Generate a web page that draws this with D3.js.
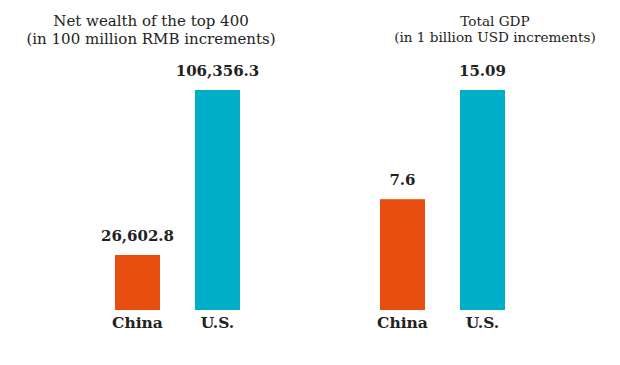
<!DOCTYPE html>
<html>
<head>
<meta charset="utf-8">
<script src="https://cdn.jsdelivr.net/npm/d3@7"></script>
<style>
  body { margin: 0; background: #fff; }
  text { font-family: "DejaVu Serif", Georgia, serif; fill: #222; }
</style>
</head>
<body>
<div id="chart"></div>
<script>
// data
const categories = ["China", "U.S."];
const wealthValues = [26602.8, 106356.3];
const gdpValues = [7.6, 15.09];
const wealthTitle = ["Net wealth of the top 400", "(in 100 million RMB increments)"];
const gdpTitle = ["Total GDP", "(in 1 billion USD increments)"];
const colors = ["#e84e10", "#00aec8"];

const width = 620, height = 365;
const baseY = 310, topY = 90;

const svg = d3.select("#chart").append("svg")
    .attr("width", width).attr("height", height);

function drawPanel(values, fmt, range, title, titleX, titleSize, lineGap) {
    const x = d3.scaleBand()
        .domain(categories)
        .range(range)
        .paddingInner(0.4375)
        .paddingOuter(0.21875);

    const y = d3.scaleLinear()
        .domain([0, d3.max(values)])
        .range([baseY, topY]);

    const g = svg.append("g");

    // title lines
    g.selectAll(".title")
        .data(title)
        .join("text")
        .attr("class", "title")
        .attr("x", titleX)
        .attr("y", (d, i) => 26 + i * lineGap)
        .attr("text-anchor", "middle")
        .style("font-size", titleSize + "px")
        .text(d => d);

    g.selectAll(".bar")
        .data(values)
        .join("rect")
        .attr("class", "bar")
        .attr("x", (d, i) => x(categories[i]))
        .attr("y", d => y(d))
        .attr("width", x.bandwidth())
        .attr("height", d => baseY - y(d))
        .style("fill", (d, i) => colors[i]);

    g.selectAll(".value")
        .data(values)
        .join("text")
        .attr("class", "value")
        .attr("x", (d, i) => x(categories[i]) + x.bandwidth() / 2)
        .attr("y", d => y(d) - 14)
        .attr("text-anchor", "middle")
        .style("font-size", "15px")
        .style("font-weight", "bold")
        .text(fmt);

    // category axis labels
    const axis = d3.axisBottom(x).tickSize(0).tickPadding(7);
    g.append("g")
        .attr("transform", `translate(0,${baseY})`)
        .call(axis)
        .call(a => a.select(".domain").remove())
        .selectAll("text")
        .style("font-family", "'DejaVu Serif', Georgia, serif")
        .style("font-size", "15.5px")
        .style("font-weight", "bold")
        .style("fill", "#222");
}

drawPanel(wealthValues, d3.format(",.1f"), [97.5, 257.5], wealthTitle, 151, 15, 17.5);
drawPanel(gdpValues, d => d === 7.6 ? "7.6" : d3.format(".2f")(d), [362.5, 522.5], gdpTitle, 495, 13.6, 16);
</script>
</body>
</html>
